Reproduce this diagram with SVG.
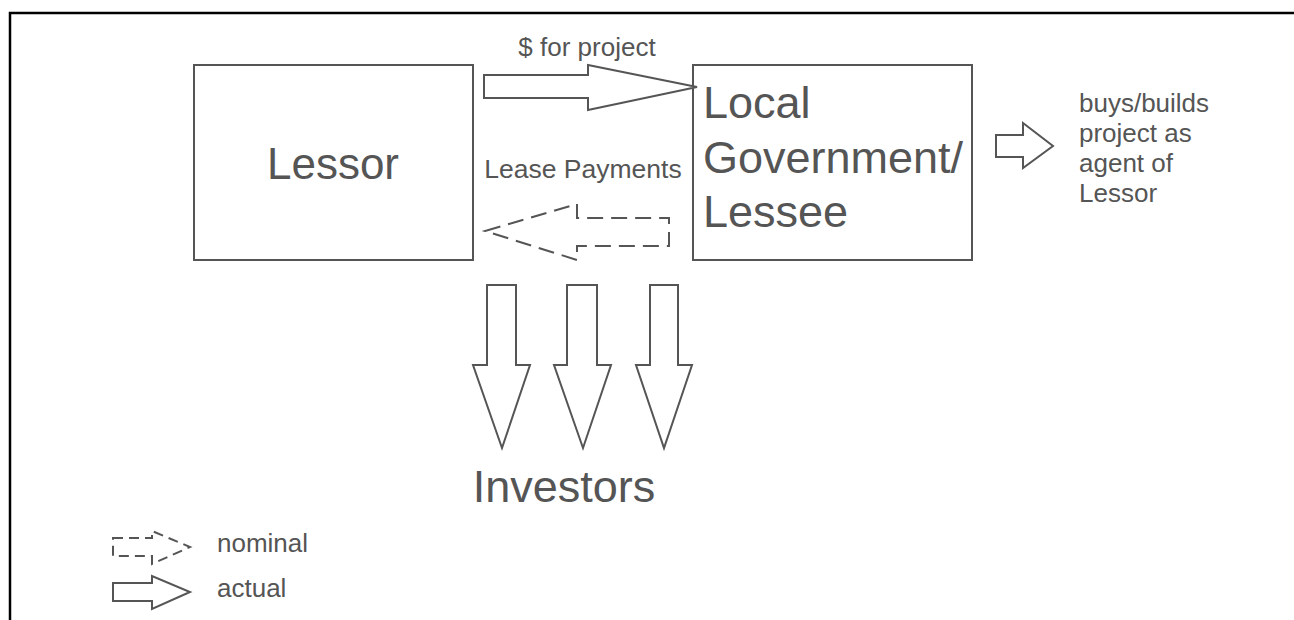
<svg xmlns="http://www.w3.org/2000/svg" width="1294" height="620" viewBox="0 0 1294 620">
<style>
.box{fill:#fff;stroke:#555;stroke-width:2}
.arr{fill:#fff;stroke:#555;stroke-width:2;stroke-linejoin:miter}
.dash{fill:#fff;stroke:#555;stroke-width:2;stroke-dasharray:16 8}
.big{font-family:"Liberation Sans",Arial,sans-serif;font-size:45px;fill:#555}
.lbl{font-family:"Liberation Sans",Arial,sans-serif;font-size:26px;fill:#555}
</style>
<rect width="1294" height="620" fill="#fff"/>
<path d="M10,620 V13 H1294" fill="none" stroke="#000" stroke-width="2.5"/>
<g id="lessor">
<rect class="box" x="194" y="65" width="279" height="195"/>
<text class="big" x="333" y="179" text-anchor="middle" style="font-size:44px">Lessor</text>
</g>
<g id="local-government">
<rect class="box" x="693" y="65" width="279" height="195"/>
<text class="big" x="703" y="118">Local</text>
<text class="big" x="703" y="173">Government/</text>
<text class="big" x="703" y="227">Lessee</text>
</g>
<g id="investors">
<text class="big" x="564" y="502" text-anchor="middle">Investors</text>
</g>
<g id="connectors">
<polygon class="arr" points="484,75 588,75 588,65 697,87 588,110 588,98 484,98"/>
<text class="lbl" x="587" y="56" text-anchor="middle">$ for project</text>
<polygon class="dash" points="485,231 577,204 577,218 669,218 669,246 577,246 577,260"/>
<text class="lbl" x="583" y="178" text-anchor="middle" style="font-size:26.5px">Lease Payments</text>
<polygon class="arr" points="487,285 516,285 516,365 530,365 502,448 473,365 487,365"/>
<polygon class="arr" points="567,285 597,285 597,365 611,365 583,448 554,365 567,365"/>
<polygon class="arr" points="650,285 678,285 678,365 692,365 664,448 636,365 650,365"/>
<polygon class="arr" points="996,135 1023,135 1023,123 1053,146 1023,168 1023,157 996,157"/>
</g>
<g id="agent-note">
<text class="lbl" x="1079" y="112">buys/builds</text>
<text class="lbl" x="1079" y="142">project as</text>
<text class="lbl" x="1079" y="172">agent of</text>
<text class="lbl" x="1079" y="202">Lessor</text>
</g>
<g id="legend">
<polygon class="dash" style="stroke-dasharray:10 6" points="113,538 152,538 152,531 190,547 152,564 152,556 113,556"/>
<text class="lbl" x="217" y="552">nominal</text>
<polygon class="arr" points="113,583 152,583 152,576 190,592 152,609 152,601 113,601"/>
<text class="lbl" x="217" y="597">actual</text>
</g>
</svg>
